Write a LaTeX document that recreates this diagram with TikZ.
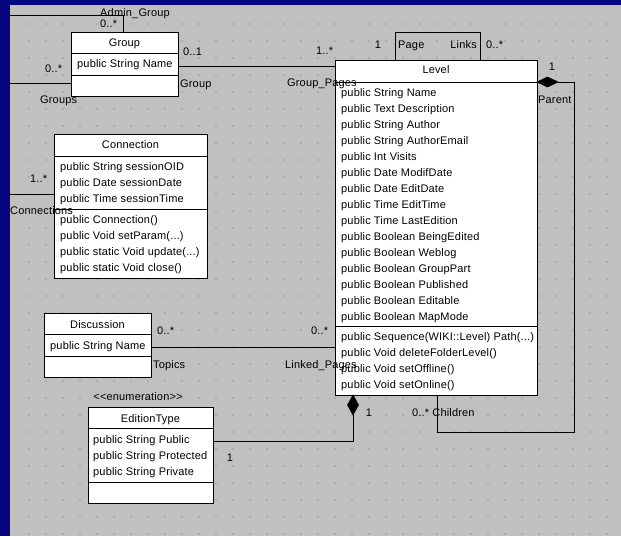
\documentclass[tikz,border=0pt]{standalone}
\usepackage{fontspec}
\setmainfont{Liberation Sans}[LetterSpace=1.5]
\definecolor{navy}{HTML}{050580}
\definecolor{bggrey}{HTML}{C0C0C0}
\definecolor{dotgrey}{HTML}{ADADAD}
\begin{document}
\begin{tikzpicture}[x=1pt,y=-1pt,
  font=\fontsize{11}{12}\selectfont,
  cls/.style={draw=black, fill=white, line width=1pt, anchor=north west, inner sep=0pt, outer sep=0pt},
  divider/.style={draw=black, line width=1pt},
  txt/.style={anchor=west, inner sep=0pt, text height=7.5pt, text depth=2pt},
  ttl/.style={anchor=center, inner sep=0pt, text height=7.5pt, text depth=2pt},
  lbl/.style={inner sep=0pt, text height=7.5pt, text depth=2pt},
  conn/.style={draw=black, line width=1pt},
  agg/.style={fill=black, draw=black, line width=0.6pt}]
\useasboundingbox (0,0) rectangle (621,536);
% background
\fill[navy] (0,0) rectangle (621,536);
\fill[bggrey] (10,5) rectangle (621,536);
\foreach \i in {0,...,35} {
  \foreach \j in {0,...,30} {
    \fill[dotgrey] ({29+17*\i-1},{24+17*\j-1}) rectangle +(2,2);
  }
}
% ---------- classes ----------
% Group
\node[cls, minimum width=107pt, minimum height=64pt] (group) at (71,32) {};
\draw[divider] (71,53) -- (178,53);
\draw[divider] (71,75) -- (178,75);
\node[ttl] (groupT) at (124.5,44) {Group};
\node[txt] (groupA) at (77,65) {public String Name};
% Connection
\node[cls, minimum width=153pt, minimum height=144pt] (connection) at (54,134) {};
\draw[divider] (54,156) -- (207,156);
\draw[divider] (54,209) -- (207,209);
\node[ttl] (connT) at (130.5,146) {Connection};
\node[txt] (c1) at (60,168) {public String sessionOID};
\node[txt] (c2) at (60,184) {public Date sessionDate};
\node[txt] (c3) at (60,200) {public Time sessionTime};
\node[txt] (c4) at (60,221) {public Connection()};
\node[txt] (c5) at (60,237) {public Void setParam(...)};
\node[txt] (c6) at (60,253) {public static Void update(...)};
\node[txt] (c7) at (60,269) {public static Void close()};
% Discussion
\node[cls, minimum width=107pt, minimum height=64pt] (discussion) at (44,313) {};
\draw[divider] (44,334) -- (151,334);
\draw[divider] (44,356) -- (151,356);
\node[ttl] (discT) at (97.5,326) {Discussion};
\node[txt] (discA) at (50,347) {public String Name};
% EditionType
\node[lbl] (enum) at (138,398) {<{}<enumeration>{}>};
\node[cls, minimum width=125pt, minimum height=96pt] (edition) at (88,407) {};
\draw[divider] (88,428) -- (213,428);
\draw[divider] (88,482) -- (213,482);
\node[ttl] (edT) at (150.5,420) {EditionType};
\node[txt] (e1) at (93,441) {public String Public};
\node[txt] (e2) at (93,457) {public String Protected};
\node[txt] (e3) at (93,473) {public String Private};
% Level
\node[cls, minimum width=202pt, minimum height=335pt] (level) at (335,60) {};
\draw[divider] (335,82) -- (537,82);
\draw[divider] (335,326) -- (537,326);
\node[ttl] (levelT) at (436,71) {Level};
\foreach \t [count=\k from 0] in {public String Name, public Text Description, public String Author,
  public String AuthorEmail, public Int Visits, public Date ModifDate, public Date EditDate,
  public Time EditTime, public Time LastEdition, public Boolean BeingEdited, public Boolean Weblog,
  public Boolean GroupPart, public Boolean Published, public Boolean Editable, public Boolean MapMode} {
  \node[txt] (la\k) at (341,{94+16*\k}) {\t};
}
\node[txt] (lm1) at (341,338) {public Sequence(WIKI::Level) Path(...)};
\node[txt] (lm2) at (341,354) {public Void deleteFolderLevel()};
\node[txt] (lm3) at (341,370) {public Void setOffline()};
\node[txt] (lm4) at (341,386) {public Void setOnline()};
% ---------- connector end points ----------
\coordinate (agL) at (10,15);
\coordinate (agT) at (123,32);
\coordinate (grL) at (10,83);
\coordinate (grR) at (71,83);
\coordinate (glA) at (178,66);
\coordinate (glB) at (335,66);
\coordinate (plA) at (395,60);
\coordinate (plB) at (480,60);
\coordinate (plTop) at (395,32);
\coordinate (pcD) at (537,82);
\coordinate (pcDe) at (558,82);
\coordinate (pcR) at (574,432);
\coordinate (pcB) at (437,395);
\coordinate (coL) at (10,194);
\coordinate (coR) at (54,194);
\coordinate (dlA) at (151,347);
\coordinate (dlB) at (335,347);
\coordinate (etA) at (213,441);
\coordinate (etD) at (353,395);
\coordinate (etDe) at (353,415);
% ---------- connectors ----------
\draw[conn] (agL) -| (agT);
\draw[conn] (grL) -- (grR);
\draw[conn] (glA) -- (glB);
\draw[conn] (plA) |- (plTop -| plB) -- (plB);
\draw[conn] (pcDe) -| (pcR) -| (pcB);
\draw[agg] (pcD) -- ++(10.5,-5) -- (pcDe) -- ++(-10.5,5) -- cycle;
\draw[conn] (coL) -- (coR);
\draw[conn] (dlA) -- (dlB);
\draw[conn] (etA) -| (etDe);
\draw[agg] (etD) -- ++(5.5,10) -- (etDe) -- ++(-5.5,-10) -- cycle;
% ---------- labels ----------
\node[lbl] (lAdmin) at (135,14) {Admin\_Group};
\node[lbl, anchor=west] (lAdminM) at (100,25) {0..*};
\node[lbl, anchor=west] (lGroupsM) at (45,70) {0..*};
\node[lbl, anchor=west] (lGroups) at (40,101) {Groups};
\node[lbl, anchor=west] (lGrM) at (183,53) {0..1};
\node[lbl, anchor=west] (lGr) at (180,85) {Group};
\node[lbl, anchor=west] (lGpM) at (316,52) {1..*};
\node[lbl, anchor=west] (lGp) at (287,84) {Group\_Pages};
\node[lbl] (lPageM) at (378,46) {1};
\node[lbl, anchor=west] (lPage) at (398,46) {Page};
\node[lbl, anchor=east] (lLinks) at (477,46) {Links};
\node[lbl, anchor=west] (lLinksM) at (486,46) {0..*};
\node[lbl] (lParM) at (552,68) {1};
\node[lbl, anchor=west] (lPar) at (538,101) {Parent};
\node[lbl, anchor=west] (lChild) at (412,414) {0..* Children};
\node[lbl, anchor=west] (lConM) at (30,180) {1..*};
\node[lbl, anchor=west] (lCon) at (10,212) {Connections};
\node[lbl, anchor=west] (lTopM) at (157,332) {0..*};
\node[lbl, anchor=west] (lTop) at (153,366) {Topics};
\node[lbl, anchor=west] (lLpM) at (311,332) {0..*};
\node[lbl, anchor=west] (lLp) at (285,366) {Linked\_Pages};
\node[lbl] (lEtM) at (230,459) {1};
\node[lbl] (lEtD) at (369,414) {1};
\end{tikzpicture}
\end{document}
